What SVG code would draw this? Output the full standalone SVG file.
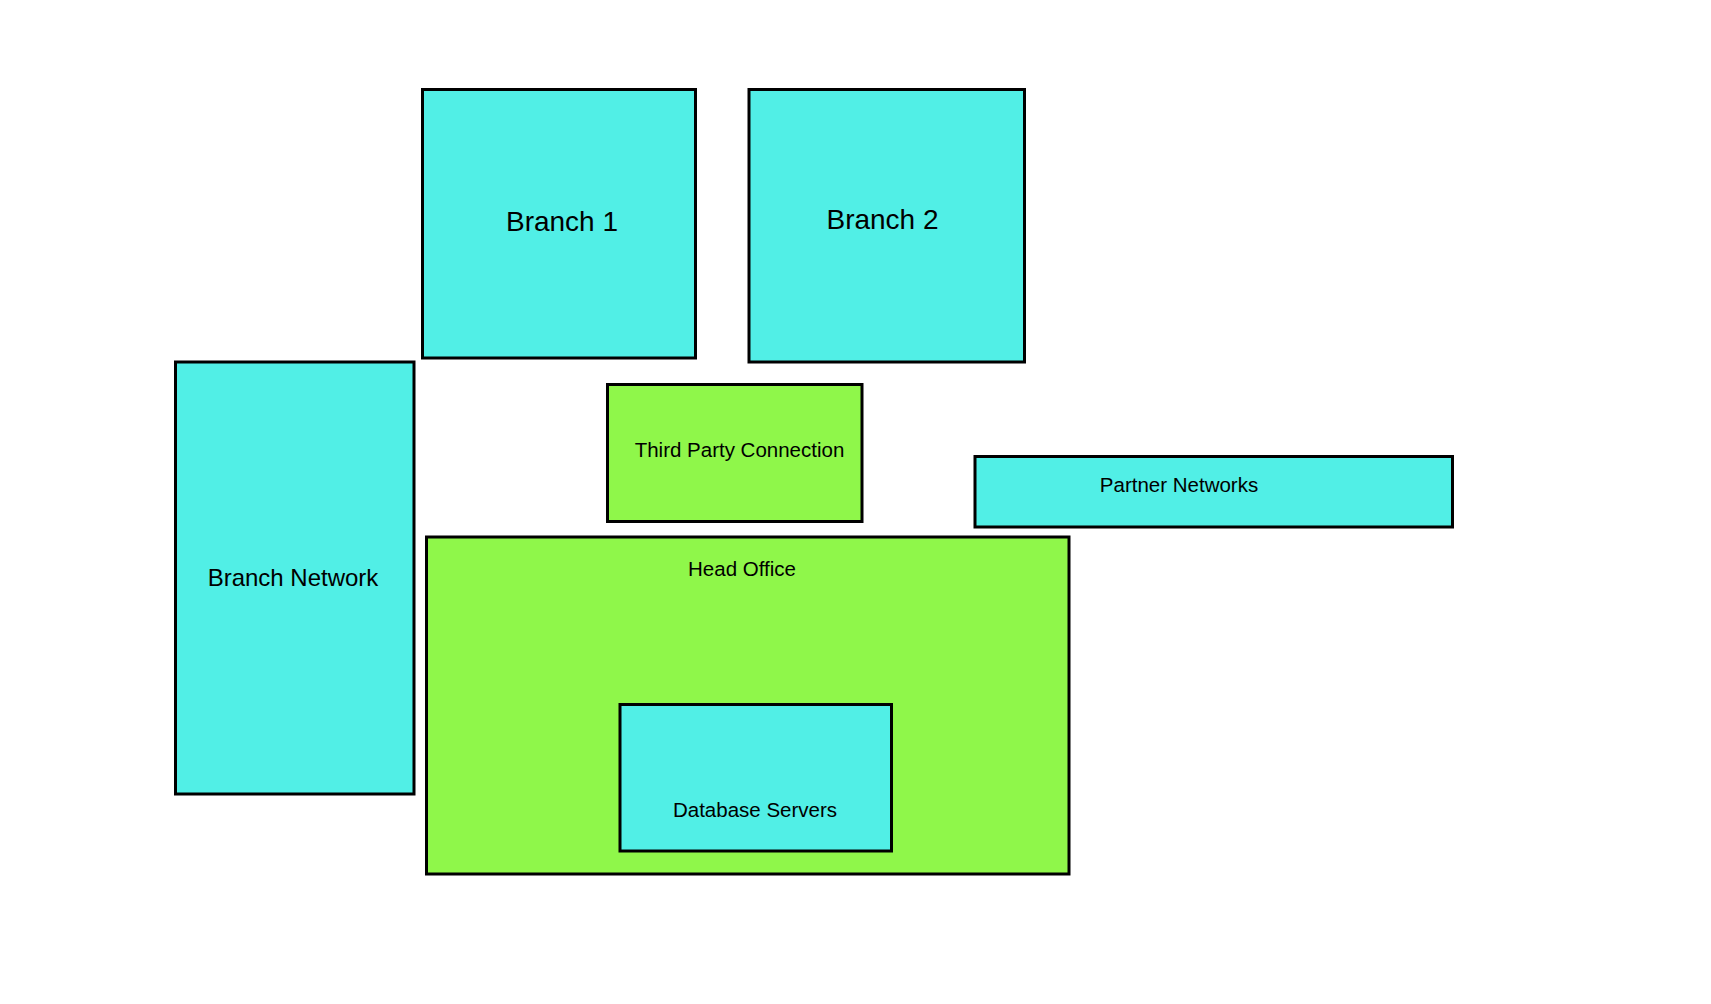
<svg xmlns="http://www.w3.org/2000/svg" width="1711" height="1004" viewBox="0 0 1711 1004">
<style>
.cy{fill:#51EFE6;stroke:#000;stroke-width:3}
.gr{fill:#8FF74A;stroke:#000;stroke-width:3}
text{font-family:"Liberation Sans",Arial,sans-serif;fill:#000;text-anchor:middle}
.l{font-size:28px}
.m{font-size:24px}
.s{font-size:20.5px}
</style>
<rect width="1711" height="1004" fill="#fff"/>
<g id="connectors"></g>
<g id="branch1"><rect class="cy" x="422.5" y="89.5" width="273" height="268.5"/><text class="l" x="562" y="231">Branch 1</text></g>
<g id="branch2"><rect class="cy" x="749" y="89.5" width="275.5" height="272.5"/><text class="l" x="882.5" y="229">Branch 2</text></g>
<g id="branch-network"><rect class="cy" x="175.5" y="362" width="238.5" height="432"/><text class="m" x="293" y="586">Branch Network</text></g>
<g id="third-party"><rect class="gr" x="607.5" y="384.5" width="254.5" height="137"/><text class="s" x="739.5" y="457">Third Party Connection</text></g>
<g id="partner-networks"><rect class="cy" x="975" y="456.5" width="477.5" height="70.5"/><text class="s" x="1179" y="491.5">Partner Networks</text></g>
<g id="head-office"><rect class="gr" x="426.5" y="537" width="642.5" height="337"/><text class="s" x="742" y="575.5">Head Office</text>
<g id="database-servers"><rect class="cy" x="620" y="704.5" width="271.5" height="146.5"/><text class="s" x="755" y="817">Database Servers</text></g></g>
</svg>
